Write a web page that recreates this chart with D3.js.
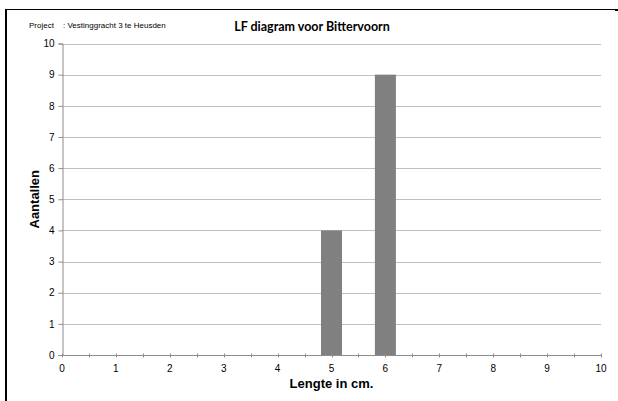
<!DOCTYPE html>
<html>
<head>
<meta charset="utf-8">
<script src="https://cdn.jsdelivr.net/npm/d3@7"></script>
<style>
  html, body { margin: 0; padding: 0; background: #ffffff; }
  svg { display: block; }
</style>
</head>
<body>
<svg id="chart" width="618" height="401"></svg>
<script>
// ---- data ----
const title = "LF diagram voor Bittervoorn";
const projectLabel = "Project";
const projectName = ": Vestinggracht 3 te Heusden";
const xAxisTitle = "Lengte in cm.";
const yAxisTitle = "Aantallen";
const lengths = [0, 1, 2, 3, 4, 5, 6, 7, 8, 9, 10];
const counts  = [0, 0, 0, 0, 0, 4, 9, 0, 0, 0, 0];
const xTickValues = [0, 1, 2, 3, 4, 5, 6, 7, 8, 9, 10];
const xMinorTicks = [0, 0.5, 1, 1.5, 2, 2.5, 3, 3.5, 4, 4.5, 5, 5.5, 6, 6.5, 7, 7.5, 8, 8.5, 9, 9.5, 10];
const yTickValues = [0, 1, 2, 3, 4, 5, 6, 7, 8, 9, 10];

(function () {
// ---- layout ----
const svg = d3.select("#chart");
const pLeft = 62, pRight = 601, pTop = 43.5, pBottom = 355;
const x = d3.scaleLinear().domain([0, 10]).range([pLeft, pRight]);
const y = d3.scaleLinear().domain([0, 10]).range([pBottom, pTop]);
const font = "'Liberation Sans', Arial, sans-serif";

// frame lines (top and left)
svg.append("rect").attr("x", 5).attr("y", 9).attr("width", 613).attr("height", 1).attr("fill", "#000");
svg.append("rect").attr("x", 5).attr("y", 9).attr("width", 2).attr("height", 392).attr("fill", "#000");
svg.append("rect").attr("x", 615).attr("y", 9).attr("width", 3).attr("height", 2).attr("fill", "#000");

// gridlines
svg.append("g")
  .selectAll("line")
  .data(yTickValues.filter(v => v > 0))
  .join("line")
  .attr("x1", pLeft).attr("x2", pRight)
  .attr("y1", d => Math.round(y(d)) + 0.5).attr("y2", d => Math.round(y(d)) + 0.5)
  .attr("stroke", "#bfbfbf").attr("stroke-width", 1);

// bars
const barHalf = 0.195;
svg.append("g")
  .selectAll("rect")
  .data(lengths.map((l, i) => ({ l, c: counts[i] })).filter(d => d.c > 0))
  .join("rect")
  .attr("x", d => x(d.l - barHalf))
  .attr("width", d => x(d.l + barHalf) - x(d.l - barHalf))
  .attr("y", d => y(d.c))
  .attr("height", d => y(0) - y(d.c))
  .attr("fill", "#808080");

// y axis
const yAxis = d3.axisLeft(y).tickValues(yTickValues).tickSize(4).tickPadding(4).tickFormat(d3.format("d"));
const gy = svg.append("g").attr("transform", `translate(${pLeft + 0.5},0)`).call(yAxis);
gy.select(".domain").attr("stroke", "#8c8c8c");
gy.selectAll(".tick line").attr("stroke", "#8c8c8c");
gy.selectAll(".tick text").attr("font-family", font).attr("font-size", 10).attr("fill", "#000");

// x axis
const gx = svg.append("g").attr("transform", `translate(0,${pBottom + 0.5})`);
gx.append("line").attr("x1", pLeft).attr("x2", pRight).attr("stroke", "#8c8c8c");
gx.selectAll("line.minor").data(xMinorTicks).join("line").attr("class", "minor")
  .attr("x1", d => Math.round(x(d)) + 0.5).attr("x2", d => Math.round(x(d)) + 0.5)
  .attr("y1", -2).attr("y2", 2).attr("stroke", "#8c8c8c");
gx.selectAll("text").data(xTickValues).join("text")
  .attr("x", d => x(d)).attr("y", 16)
  .attr("text-anchor", "middle")
  .attr("font-family", font).attr("font-size", 10).attr("fill", "#000")
  .text(d => d);

// axis titles
svg.append("text")
  .attr("x", (pLeft + pRight) / 2).attr("y", 387.5)
  .attr("text-anchor", "middle").attr("fill", "#000")
  .attr("font-family", font).attr("font-size", 13).attr("font-weight", "bold")
  .text(xAxisTitle);
svg.append("text")
  .attr("transform", `translate(39,${(pTop + pBottom) / 2}) rotate(-90)`)
  .attr("text-anchor", "middle").attr("fill", "#000")
  .attr("font-family", font).attr("font-size", 13).attr("font-weight", "bold")
  .text(yAxisTitle);

// header
svg.append("text").attr("x", 29).attr("y", 27.5).attr("fill", "#000")
  .attr("font-family", font).attr("font-size", 8).text(projectLabel);
svg.append("text").attr("x", 63).attr("y", 27.5).attr("fill", "#000")
  .attr("font-family", font).attr("font-size", 8).text(projectName);
svg.append("text").attr("x", 312).attr("y", 31).attr("fill", "#000")
  .attr("text-anchor", "middle")
  .attr("font-family", "Lato, 'Open Sans', sans-serif").attr("font-size", 12.5).attr("font-weight", "bold")
  .text(title);
})();
</script>
</body>
</html>
